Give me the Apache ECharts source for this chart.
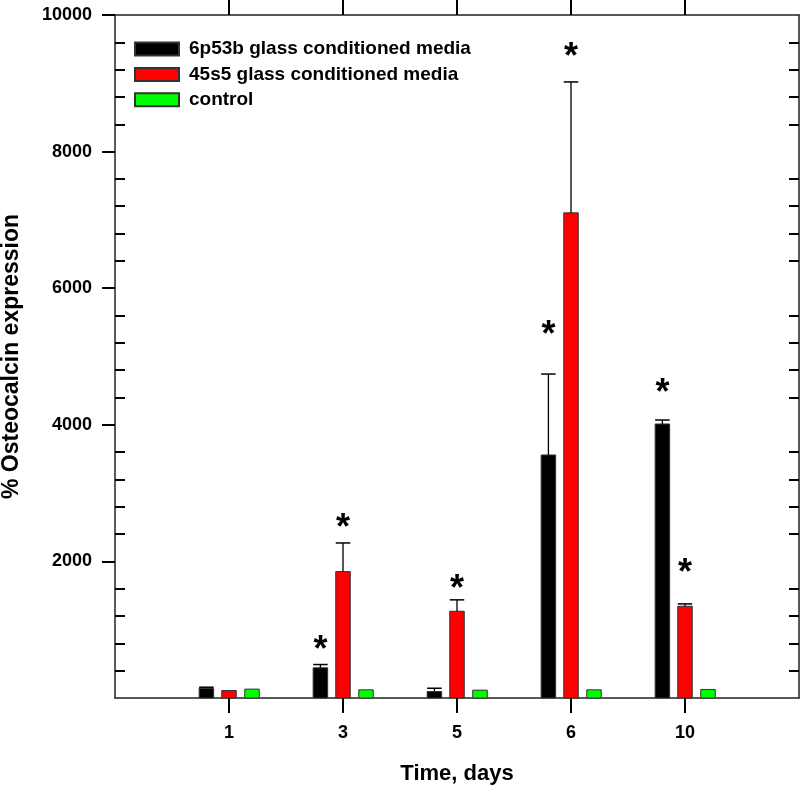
<!DOCTYPE html>
<html>
<head>
<meta charset="utf-8">
<script src="https://cdn.jsdelivr.net/npm/echarts@6/dist/echarts.min.js"></script>
<style>html,body{margin:0;padding:0;background:#fff}#chart{width:800px;height:787px}</style>
</head>
<body>
<div id="chart"></div>
<script>
// ---- data ----
const days = ['1', '3', '5', '6', '10'];
const mean6p53b = [143, 442, 95, 3558, 4012];
const err6p53b = [15, 48, 48, 1185, 58];
const star6p53b = [null, 800, null, 5420, 4570];
const mean45s5 = [110, 1851, 1270, 7103, 1343];
const err45s5 = [0, 419, 167, 1917, 35];
const star45s5 = [null, 2585, 1690, 9490, 1925];
const meanControl = [130, 120, 115, 120, 125];
const errControl = [0, 0, 0, 0, 0];
const starControl = [null, null, null, null, null];
const yTickLabels = [2000, 4000, 6000, 8000, 10000];
const seriesNames = ['6p53b glass conditioned media', '45s5 glass conditioned media', 'control'];

const FONT = 'Liberation Sans, Arial, sans-serif';
const dayPositions = days.map((d, i) => i + 1);
const minorTicks = [];
for (let v = 400; v < 10000; v += 400) { if (v % 2000 !== 0) minorTicks.push(v); }

function rows(means, errs, stars) {
  return means.map((m, i) => [i + 1, m, errs[i], stars[i] == null ? NaN : stars[i]]);
}

function makeRender(offsetPx, color) {
  return function (params, api) {
    const x = api.value(0), v = api.value(1), e = api.value(2), s = api.value(3);
    const base = api.coord([x, 0]);
    const top = api.coord([x, v]);
    const cx = base[0] + offsetPx;
    const w = 14.5;
    const children = [{
      type: 'rect',
      shape: { x: cx - w / 2, y: top[1], width: w, height: base[1] - top[1] },
      style: { fill: color, stroke: '#333', lineWidth: 1 }
    }];
    if (e > 0) {
      const et = api.coord([x, v + e]);
      children.push({ type: 'line', shape: { x1: cx, y1: top[1], x2: cx, y2: et[1] }, style: { stroke: '#000', lineWidth: 1.3 } });
      children.push({ type: 'line', shape: { x1: cx - w / 2, y1: et[1], x2: cx + w / 2, y2: et[1] }, style: { stroke: '#000', lineWidth: 1.5 } });
    }
    if (!isNaN(s)) {
      const st = api.coord([x, s]);
      children.push({ type: 'text', x: cx, y: st[1] + 8, style: { text: '*', font: 'bold 36px ' + FONT, fill: '#000', align: 'center', verticalAlign: 'middle' } });
    }
    return { type: 'group', children: children };
  };
}

const colors = ['#000000', '#ff0000', '#00ff00'];
const offsets = [-22.6, 0, 23];
const dataSets = [
  rows(mean6p53b, err6p53b, star6p53b),
  rows(mean45s5, err45s5, star45s5),
  rows(meanControl, errControl, starControl)
];

const lineStyle = { color: '#222', width: 1.5 };

const option = {
  animation: false,
  backgroundColor: '#fff',
  grid: { left: 115, right: 1, top: 15, bottom: 89, containLabel: false, outerBoundsMode: 'none' },
  legend: {
    orient: 'vertical', left: 134, top: 39, padding: 0,
    itemWidth: 44, itemHeight: 13, itemGap: 5.4,
    icon: 'rect',
    textStyle: { fontFamily: FONT, fontWeight: 'bold', fontSize: 19, color: '#000', lineHeight: 20, padding: [0, 0, 0, 5] },
    data: seriesNames
  },
  xAxis: [{
    type: 'value', position: 'bottom', min: 0, max: 6, interval: 1,
    axisLine: { show: true, onZero: false, lineStyle: lineStyle },
    axisTick: { show: true, inside: false, length: 15, customValues: dayPositions, lineStyle: { color: '#000', width: 2 } },
    axisLabel: { customValues: dayPositions, formatter: v => days[v - 1] || '', fontFamily: FONT, fontWeight: 'bold', fontSize: 18, color: '#000', margin: 26 },
    splitLine: { show: false },
    name: 'Time, days', nameLocation: 'middle', nameGap: 65,
    nameTextStyle: { fontFamily: FONT, fontWeight: 'bold', fontSize: 22, color: '#000' }
  }, {
    type: 'value', position: 'top', min: 0, max: 6, interval: 1,
    axisLine: { show: true, onZero: false, lineStyle: lineStyle },
    axisTick: { show: true, inside: false, length: 15, customValues: dayPositions, lineStyle: { color: '#000', width: 2 } },
    axisLabel: { show: false },
    splitLine: { show: false }
  }],
  yAxis: [{
    type: 'value', position: 'left', min: 0, max: 10000, interval: 2000,
    axisLine: { show: true, onZero: false, lineStyle: lineStyle },
    axisTick: { show: true, inside: false, length: 13, customValues: yTickLabels, lineStyle: { color: '#000', width: 2 } },
    axisLabel: { customValues: yTickLabels, formatter: v => String(v), fontFamily: FONT, fontWeight: 'bold', fontSize: 18, color: '#000', margin: 23 },
    splitLine: { show: false },
    name: '% Osteocalcin expression', nameLocation: 'middle', nameGap: 92,
    nameTextStyle: { fontFamily: FONT, fontWeight: 'bold', fontSize: 23, color: '#000' }
  }, {
    type: 'value', position: 'left', offset: 0, min: 0, max: 10000, interval: 2000,
    axisLine: { show: false, onZero: false },
    axisTick: { show: true, inside: true, length: 10, customValues: minorTicks, lineStyle: { color: '#000', width: 2 } },
    axisLabel: { show: false },
    splitLine: { show: false }
  }, {
    type: 'value', position: 'right', offset: 0, min: 0, max: 10000, interval: 2000,
    axisLine: { show: true, onZero: false, lineStyle: lineStyle },
    axisTick: { show: true, inside: true, length: 10, customValues: minorTicks, lineStyle: { color: '#000', width: 2 } },
    axisLabel: { show: false },
    splitLine: { show: false }
  }],
  series: seriesNames.map((name, k) => ({
    name: name,
    type: 'custom',
    xAxisIndex: 0, yAxisIndex: 0,
    itemStyle: { color: colors[k], borderColor: '#333', borderWidth: 1 },
    renderItem: makeRender(offsets[k], colors[k]),
    encode: { x: 0, y: 1 },
    data: dataSets[k]
  }))
};

const chart = echarts.init(document.getElementById('chart'), null, { renderer: 'canvas' });
chart.setOption(option);
</script>
</body>
</html>
